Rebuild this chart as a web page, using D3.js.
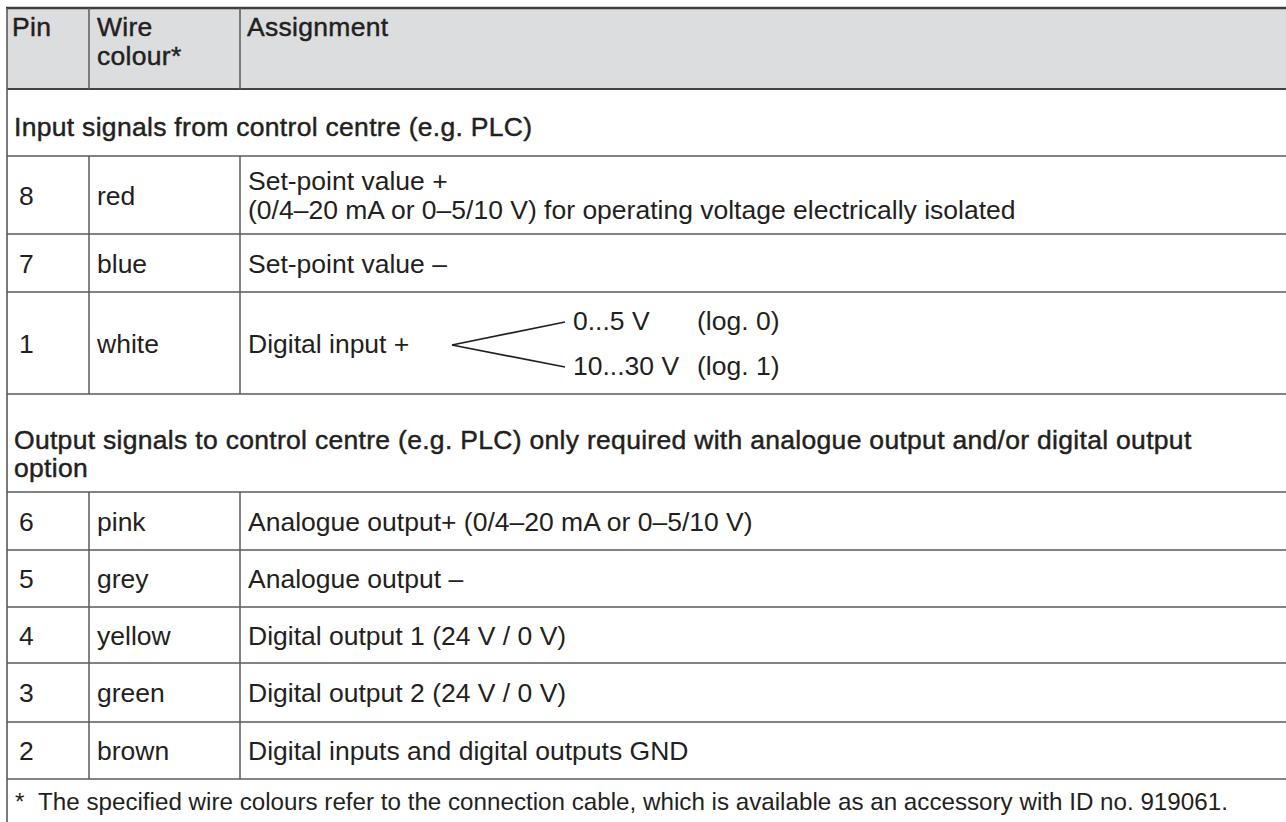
<!DOCTYPE html>
<html>
<head>
<meta charset="utf-8">
<script src="https://cdn.jsdelivr.net/npm/d3@7"></script>
<style>
  html, body { margin: 0; padding: 0; background: #fff; }
  svg { display: block; }
  text { font-family: "Liberation Sans", Arial, Helvetica, sans-serif; fill: #231f20; }
  .head { stroke: #231f20; stroke-width: 0.45px; letter-spacing: 0.3px; }
</style>
</head>
<body>
<svg id="chart" width="1286" height="822"></svg>
<script>
// ---- data ----
const headers = ["Pin", "Wire\ncolour*", "Assignment"];
const sectionTitles = [
  "Input signals from control centre (e.g. PLC)",
  "Output signals to control centre (e.g. PLC) only required with analogue output and/or digital output\noption"
];
const pins = ["8", "7", "1", "6", "5", "4", "3", "2"];
const wireColours = ["red", "blue", "white", "pink", "grey", "yellow", "green", "brown"];
const assignments = [
  "Set-point value +\n(0/4–20 mA or 0–5/10 V) for operating voltage electrically isolated",
  "Set-point value –",
  "Digital input +",
  "Analogue output+ (0/4–20 mA or 0–5/10 V)",
  "Analogue output –",
  "Digital output 1 (24 V / 0 V)",
  "Digital output 2 (24 V / 0 V)",
  "Digital inputs and digital outputs GND"
];
const digitalLevels = ["0...5 V", "10...30 V"];
const logicLabels = ["(log. 0)", "(log. 1)"];
const footnoteMark = "*";
const footnote = "The specified wire colours refer to the connection cable, which is available as an accessory with ID no. 919061.";

// ---- layout ----
const W = 1286, H = 822;
const fontSize = 26.5, footSize = 24.2, lineH = 28.5;
const left = 7, right = W + 5;
const colX = [left, 89, 240];
// row sequence: header, section0, rows 0-2, section1, rows 3-7, footnote
const rowSeq = [
  {type: "header", h: 81},
  {type: "section", i: 0, h: 67},
  {type: "row", i: 0, h: 78},
  {type: "row", i: 1, h: 58},
  {type: "row", i: 2, h: 102},
  {type: "section", i: 1, h: 98},
  {type: "row", i: 3, h: 58},
  {type: "row", i: 4, h: 57},
  {type: "row", i: 5, h: 56},
  {type: "row", i: 6, h: 59},
  {type: "row", i: 7, h: 57},
  {type: "foot", h: 80}
];
const top0 = 8;
let acc = top0;
rowSeq.forEach(r => { r.y0 = acc; acc += r.h; r.y1 = acc; });

const svg = d3.select("#chart");
const g = svg.append("g");

// header background
const hdr = rowSeq[0];
g.append("rect").attr("x", left).attr("y", hdr.y0).attr("width", right - left).attr("height", hdr.h)
  .attr("fill", "#dcdddf");

function multiline(sel, str, x, yBase, size) {
  const lines = str.split("\n");
  const t = sel.append("text").attr("x", x).attr("y", yBase).attr("font-size", size || fontSize);
  lines.forEach((ln, k) => {
    t.append("tspan").attr("x", x).attr("y", yBase + k * lineH).text(ln);
  });
  return t;
}

// header text (top aligned)
const headX = [12, 97, 247];
headers.forEach((h, k) => {
  multiline(g, h, headX[k], hdr.y0 + 28).attr("class", "head");
});

// body
const cellX = [19, 97, 248];
rowSeq.forEach(r => {
  if (r.type === "section") {
    const lines = sectionTitles[r.i].split("\n").length;
    const yb = r.y1 - (r.i === 0 ? 20 : 15) - (lines - 1) * lineH;
    multiline(g, sectionTitles[r.i], 14, yb).attr("class", "head");
  } else if (r.type === "row") {
    const txt = assignments[r.i];
    const n = txt.split("\n").length;
    const mid = (r.y0 + r.y1) / 2;
    const base = mid + 9.5;
    multiline(g, pins[r.i], cellX[0], base);
    multiline(g, wireColours[r.i], cellX[1], base);
    multiline(g, txt, cellX[2], base - (n - 1) * lineH / 2);
    if (r.i === 2) {
      // branching marker for digital input levels
      const vx = 452, vy = mid + 2;
      const ex = 565;
      const ys = [mid - 21, mid + 24];
      const lineGen = d3.line();
      ys.forEach((ye, k) => {
        g.append("path").attr("d", lineGen([[ex, ye], [vx, vy]]))
          .attr("fill", "none").attr("stroke", "#231f20").attr("stroke-width", 1.7);
        g.append("text").attr("x", 573).attr("y", ye + 8).attr("font-size", fontSize).text(digitalLevels[k]);
        g.append("text").attr("x", 697).attr("y", ye + 8).attr("font-size", fontSize).text(logicLabels[k]);
      });
    }
  } else if (r.type === "foot") {
    g.append("text").attr("x", 15).attr("y", r.y0 + 31).attr("font-size", footSize).text(footnoteMark);
    g.append("text").attr("x", 38).attr("y", r.y0 + 31).attr("font-size", footSize).text(footnote);
  }
});

// grid lines
const lineCol = "#5a5a5a";
rowSeq.forEach((r, k) => {
  if (k === rowSeq.length - 1) return;
  g.append("line").attr("x1", left).attr("x2", right).attr("y1", r.y1).attr("y2", r.y1)
    .attr("stroke", k === 0 ? "#444" : lineCol).attr("stroke-width", k === 0 ? 2 : 1.5);
});
// top border
g.append("line").attr("x1", left - 1).attr("x2", right).attr("y1", top0).attr("y2", top0)
  .attr("stroke", "#3d3d3d").attr("stroke-width", 2.4);
// left border
g.append("line").attr("x1", left).attr("x2", left).attr("y1", top0).attr("y2", H + 5)
  .attr("stroke", lineCol).attr("stroke-width", 1.6);
// column separators
rowSeq.forEach(r => {
  if (r.type === "header" || r.type === "row") {
    [colX[1], colX[2]].forEach(x => {
      g.append("line").attr("x1", x).attr("x2", x).attr("y1", r.y0).attr("y2", r.y1)
        .attr("stroke", lineCol).attr("stroke-width", 1.5);
    });
  }
});
</script>
</body>
</html>
